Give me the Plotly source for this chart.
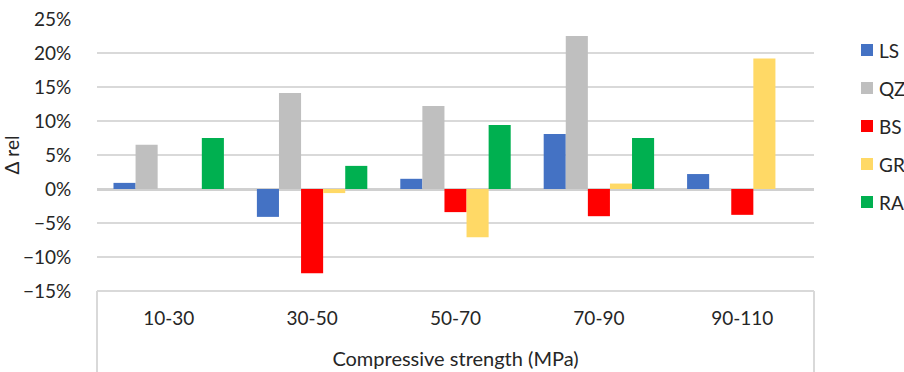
import plotly.graph_objects as go

categories = ["10-30", "30-50", "50-70", "70-90", "90-110"]
LS = [0.009, -0.041, 0.015, 0.081, 0.022]
QZ = [0.065, 0.141, 0.122, 0.225, 0.0]
BS = [0.0, -0.124, -0.034, -0.040, -0.038]
GR = [0.0, -0.006, -0.071, 0.008, 0.192]
RA = [0.075, 0.034, 0.094, 0.075, 0.0]

series = [("LS", LS, "#4472C4"), ("QZ", QZ, "#BFBFBF"), ("BS", BS, "#FF0000"),
          ("GR", GR, "#FFD966"), ("RA", RA, "#00B050")]

FONT = "Lato"
TXT = "#262626"
fig = go.Figure()
for name, vals, col in series:
    fig.add_trace(go.Bar(x=categories, y=vals, name=name, marker_color=col,
                         marker_line_width=0, showlegend=False))

W, H = 904, 372
ml, mr, mt, mb = 97, 90, 19, 81
plot_w = W - ml - mr
plot_h = H - mt - mb

fig.update_layout(
    width=W, height=H,
    margin=dict(l=ml, r=mr, t=mt, b=mb, pad=0, autoexpand=False),
    paper_bgcolor="white", plot_bgcolor="white",
    barmode="group", bargap=0.23, bargroupgap=0,
    font=dict(family=FONT, size=19, color=TXT),
    showlegend=False,
)
fig.update_yaxes(range=[-0.15, 0.25], tickvals=[-0.15, -0.1, -0.05, 0, 0.05, 0.1, 0.15, 0.2, 0.25],
                 tickformat=".0%", showgrid=True, gridcolor="#D9D9D9", gridwidth=2,
                 zeroline=True, zerolinecolor="#D0D0D0", zerolinewidth=3, automargin=False,
                 showline=False, ticks="outside", ticklen=21, tickcolor="rgba(0,0,0,0)",
                 title=dict(text="Δ rel", standoff=2, font=dict(size=19)),
                 tickfont=dict(size=19, color=TXT))
fig.update_xaxes(showline=False, showgrid=False, ticks="outside", ticklen=10, automargin=False,
                 tickcolor="rgba(0,0,0,0)", tickfont=dict(size=19, color=TXT),
                 title=dict(text="Compressive strength (MPa)", standoff=24, font=dict(size=20)))

# box around category area
bot = -mb / plot_h
for x0 in [0, 1]:
    fig.add_shape(type="line", xref="paper", yref="paper", x0=x0, x1=x0, y0=bot, y1=0,
                  line=dict(color="#D9D9D9", width=2))
fig.add_shape(type="line", xref="paper", yref="paper", x0=0, x1=1, y0=0, y1=0,
              line=dict(color="#D9D9D9", width=2))

# custom legend
leg_x0 = 861
leg_y0 = 50
leg_dy = 38
for i, (name, vals, col) in enumerate(series):
    yc = leg_y0 + i * leg_dy
    fx0 = (leg_x0 - ml) / plot_w
    fx1 = (leg_x0 + 12 - ml) / plot_w
    fy0 = (H - mb - (yc + 6)) / plot_h
    fy1 = (H - mb - (yc - 6)) / plot_h
    fig.add_shape(type="rect", xref="paper", yref="paper", x0=fx0, x1=fx1, y0=fy0, y1=fy1,
                  fillcolor=col, line=dict(width=0))
    fig.add_annotation(xref="paper", yref="paper", x=(leg_x0 + 16 - ml) / plot_w,
                       y=(H - mb - yc) / plot_h, text=name, showarrow=False,
                       xanchor="left", yanchor="middle", font=dict(size=19, color=TXT))

fig.write_html("out.html")
